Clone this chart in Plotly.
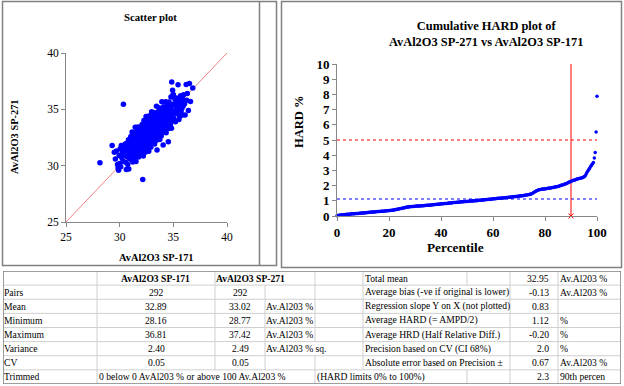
import plotly.graph_objects as go

W, H = 624, 386
FONT = "Liberation Serif, Times New Roman, serif"

# ---------------- data ----------------
x171 = [
    28.16,
    29.3, 29.5, 29.6, 29.7, 29.8, 29.85, 29.9, 29.95,
    30.0, 30.05, 30.1, 30.15, 30.2, 30.25, 30.3, 30.35, 30.4, 30.45, 30.5, 30.55,
    30.6, 30.62, 30.65, 30.7, 30.72, 30.75, 30.8, 30.82, 30.85, 30.9, 30.93, 30.97,
    31.00, 31.02, 31.04, 31.05, 31.07, 31.09, 31.10, 31.12, 31.14, 31.16,
    31.18, 31.20, 31.22, 31.24, 31.25, 31.27, 31.29, 31.30, 31.32, 31.34,
    31.36, 31.38, 31.40, 31.42, 31.44, 31.45, 31.47, 31.49, 31.50, 31.52,
    31.54, 31.56, 31.58, 31.60, 31.62, 31.64, 31.65, 31.67, 31.69, 31.70,
    31.72, 31.74, 31.76, 31.78, 31.80, 31.82, 31.84, 31.85, 31.87, 31.89,
    31.90, 31.92, 31.94, 31.96, 31.98,
    32.00, 32.02, 32.03, 32.05, 32.06, 32.08, 32.09, 32.11, 32.12, 32.14,
    32.15, 32.17, 32.19, 32.20, 32.22, 32.23, 32.25, 32.26, 32.28, 32.29,
    32.31, 32.33, 32.34, 32.36, 32.37, 32.39, 32.40, 32.42, 32.43, 32.45,
    32.46, 32.48, 32.50, 32.51, 32.53, 32.54, 32.56, 32.57, 32.59, 32.60,
    32.62, 32.64, 32.65, 32.67, 32.68, 32.70, 32.71, 32.73, 32.74, 32.76,
    32.77, 32.79, 32.81, 32.82, 32.84, 32.85, 32.87, 32.88, 32.90, 32.91,
    32.93, 32.95, 32.96, 32.98, 32.99,
    33.00, 33.02, 33.03, 33.05, 33.06, 33.08, 33.09, 33.11, 33.12, 33.14,
    33.15, 33.17, 33.19, 33.20, 33.22, 33.23, 33.25, 33.26, 33.28, 33.29,
    33.31, 33.33, 33.34, 33.36, 33.37, 33.39, 33.40, 33.42, 33.43, 33.45,
    33.46, 33.48, 33.50, 33.51, 33.53, 33.54, 33.56, 33.57, 33.59, 33.60,
    33.62, 33.64, 33.65, 33.67, 33.68, 33.70, 33.71, 33.73, 33.74, 33.76,
    33.77, 33.79, 33.81, 33.82, 33.84, 33.85, 33.87, 33.88, 33.90, 33.91,
    33.93, 33.95, 33.96, 33.98, 33.99,
    34.00, 34.03, 34.05, 34.08, 34.10, 34.13, 34.15, 34.18, 34.20, 34.23,
    34.25, 34.28, 34.30, 34.33, 34.35, 34.38, 34.40, 34.43, 34.45, 34.48,
    34.50, 34.53, 34.55, 34.58, 34.60, 34.63, 34.65, 34.68, 34.70, 34.73,
    34.75, 34.78, 34.80, 34.83, 34.85, 34.88, 34.90, 34.93, 34.95, 34.98,
    35.00, 35.04, 35.08, 35.12, 35.16, 35.20, 35.24, 35.28, 35.32, 35.36,
    35.40, 35.44, 35.48, 35.52, 35.56, 35.60, 35.64, 35.68, 35.72, 35.76,
    35.80, 35.84, 35.88, 35.92, 35.96,
    36.05, 36.1, 36.2, 36.25, 36.3, 36.4, 36.5, 36.6, 36.81,
]
y271 = [
    30.25,
    31.8, 31.2, 30.6, 31.3, 30.1, 29.8, 29.6, 30.9,
    30.2, 31.5, 29.9, 31.8, 30.7, 31.2, 30.4, 35.45, 31.6, 30.9, 31.9, 30.3,
    31.3, 29.65, 32.0, 30.8, 31.5, 30.1, 31.7, 32.3, 29.7, 31.1, 30.6, 31.9,
    31.75, 30.87, 32.58, 31.29, 32.21, 30.52, 31.63, 32.05, 31.17, 32.98,
    30.80, 31.82, 30.33, 32.55, 31.66, 31.37, 32.29, 31.00, 32.92, 31.63,
    32.15, 30.67, 32.58, 31.30, 32.02, 33.42, 30.94, 32.16, 31.67, 30.38,
    32.20, 31.32, 33.03, 31.75, 32.67, 30.98, 32.09, 32.51, 31.62, 33.43,
    31.25, 32.26, 30.78, 33.00, 32.11, 31.83, 32.75, 31.46, 33.37, 32.09,
    32.60, 31.11, 33.03, 31.75, 32.46,
    31.88, 33.20, 31.10, 32.52, 32.93, 32.25, 33.65, 31.67, 32.78, 31.50,
    28.77, 33.42, 32.14, 30.85, 33.16, 32.77, 31.99, 34.00, 32.31, 33.02,
    31.54, 32.65, 33.36, 31.98, 33.69, 31.20, 32.81, 32.33, 33.24, 31.85,
    34.36, 32.68, 32.50, 32.30, 33.62, 31.53, 32.94, 33.35, 32.67, 34.08,
    32.09, 33.21, 31.92, 32.84, 33.84, 32.56, 31.27, 33.59, 33.19, 32.41,
    34.42, 32.74, 33.45, 31.96, 33.08, 33.78, 32.40, 34.11, 31.63, 33.23,
    32.75, 33.67, 32.28, 34.79, 33.10,
    33.61, 32.33, 34.33, 32.85, 33.26, 32.08, 33.88, 33.50, 32.71, 34.73,
    33.03, 32.35, 33.67, 34.28, 32.69, 33.30, 31.92, 34.13, 33.54, 32.95,
    34.67, 32.68, 33.99, 33.31, 32.22, 34.33, 33.74, 32.86, 35.27, 33.18,
    33.49, 31.40, 34.03, 32.73, 34.75, 33.26, 33.67, 32.48, 34.30, 33.91,
    33.12, 35.14, 33.45, 32.77, 34.07, 34.69, 33.10, 33.72, 32.32, 34.54,
    33.95, 33.37, 35.08, 33.09, 34.41, 33.72, 32.63, 34.74, 34.16, 33.27,
    35.68, 33.60, 33.91, 32.92, 34.43,
    33.64, 34.76, 31.83, 34.41, 35.22, 33.45, 34.17, 33.89, 35.01, 33.23,
    34.65, 35.68, 33.79, 32.92, 34.53, 34.96, 34.17, 35.30, 33.61, 34.54,
    34.06, 32.13, 33.30, 34.82, 35.64, 33.86, 34.58, 34.30, 35.42, 33.65,
    35.06, 36.09, 34.21, 33.33, 37.42, 35.37, 34.59, 36.70, 34.03, 36.30,
    36.3, 34.2, 35.5, 34.8, 35.9, 33.9, 35.2, 36.0, 34.6, 35.5,
    34.9, 37.18, 35.6, 34.1, 35.8, 34.36, 35.2, 36.2, 34.8, 35.6,
    35.1, 34.5, 35.9, 35.3, 36.3,
    35.5, 34.5, 37.2, 35.8, 36.4, 34.9, 37.3, 35.7, 36.9,
]

hard_sorted = [
    0.02, 0.04, 0.05, 0.05, 0.06, 0.07, 0.08, 0.08, 0.09, 0.10, 0.10, 0.11, 0.11, 0.12, 0.12, 0.13, 0.13, 0.14, 0.14, 0.15,
    0.15, 0.16, 0.16, 0.17, 0.17, 0.18, 0.18, 0.19, 0.19, 0.20, 0.20, 0.21, 0.22, 0.22, 0.23, 0.23, 0.24, 0.24, 0.25, 0.26,
    0.26, 0.27, 0.27, 0.28, 0.28, 0.29, 0.29, 0.30, 0.30, 0.31, 0.31, 0.32, 0.32, 0.33, 0.33, 0.34, 0.35, 0.35, 0.36, 0.37,
    0.37, 0.38, 0.38, 0.39, 0.40, 0.41, 0.42, 0.44, 0.45, 0.46, 0.47, 0.49, 0.50, 0.51, 0.53, 0.54, 0.55, 0.57, 0.58, 0.60,
    0.60, 0.61, 0.61, 0.62, 0.62, 0.63, 0.63, 0.64, 0.64, 0.65, 0.65, 0.65, 0.66, 0.66, 0.67, 0.67, 0.68, 0.68, 0.69, 0.69,
    0.70, 0.70, 0.71, 0.71, 0.72, 0.72, 0.73, 0.74, 0.74, 0.75, 0.75, 0.76, 0.77, 0.77, 0.78, 0.79, 0.79, 0.80, 0.80, 0.81,
    0.82, 0.82, 0.83, 0.83, 0.84, 0.85, 0.85, 0.86, 0.86, 0.87, 0.88, 0.88, 0.89, 0.89, 0.90, 0.91, 0.91, 0.92, 0.92, 0.93,
    0.93, 0.94, 0.94, 0.95, 0.95, 0.96, 0.96, 0.97, 0.97, 0.98, 0.98, 0.99, 0.99, 1.00, 1.00, 1.01, 1.01, 1.02, 1.02, 1.03,
    1.04, 1.04, 1.05, 1.05, 1.06, 1.07, 1.07, 1.08, 1.09, 1.09, 1.10, 1.10, 1.11, 1.12, 1.12, 1.13, 1.13, 1.14, 1.15, 1.15,
    1.16, 1.16, 1.17, 1.17, 1.18, 1.19, 1.19, 1.20, 1.20, 1.21, 1.22, 1.22, 1.23, 1.24, 1.24, 1.25, 1.26, 1.26, 1.27, 1.28,
    1.28, 1.29, 1.30, 1.30, 1.31, 1.32, 1.33, 1.33, 1.34, 1.35, 1.36, 1.37, 1.38, 1.39, 1.40, 1.42, 1.43, 1.44, 1.46, 1.50,
    1.54, 1.58, 1.62, 1.65, 1.68, 1.70, 1.72, 1.74, 1.75, 1.76, 1.77, 1.78, 1.78, 1.79, 1.80, 1.81, 1.82, 1.83, 1.84, 1.85,
    1.86, 1.87, 1.88, 1.89, 1.91, 1.92, 1.93, 1.94, 1.96, 1.98, 2.00, 2.02, 2.04, 2.06, 2.08, 2.10, 2.12, 2.14, 2.17, 2.20,
    2.23, 2.26, 2.29, 2.31, 2.33, 2.35, 2.37, 2.39, 2.41, 2.43, 2.45, 2.46, 2.48, 2.49, 2.51, 2.53, 2.56, 2.60, 2.66, 2.78,
    2.90, 2.98, 3.08, 3.18, 3.28, 3.36, 3.44, 3.52, 3.82, 4.18, 5.52, 7.88,
]

one_to_one = [25, 40]
hard_limit = 5
avg_hard = 1.12
pct_cut = 90
hard_axis_max = 10

row_labels = ["", "Pairs", "Mean", "Minimum", "Maximum", "Variance", "CV", "Trimmed"]
col_sp171 = ["AvAl2O3 SP-171", "292", "32.89", "28.16", "36.81", "2.40", "0.05",
             "0 below 0 AvAl203 % or above 100 Av.Al203 %"]
col_sp271 = ["AvAl2O3 SP-271", "292", "33.02", "28.77", "37.42", "2.49", "0.05", ""]
col_units = ["", "", "Av.Al203 %", "Av.Al203 %", "Av.Al203 %", "Av.Al203 % sq.", "", ""]
col_limits = ["", "", "", "", "", "", "", "(HARD limits 0% to 100%)"]
stat_names = ["Total mean", "Average bias (-ve if original is lower)",
              "Regression slope Y on X (not plotted)", "Average HARD (= AMPD/2)",
              "Average HRD (Half Relative Diff.)", "Precision based on CV (CI 68%)",
              "Absolute error based on Precision \u00b1", ""]
stat_values = ["32.95", "-0.13", "0.83", "1.12", "-0.20", "2.0", "0.67", "2.3"]
stat_units = ["Av.Al203 %", "Av.Al203 %", "", "%", "%", "%", "Av.Al203 %", "90th percen"]

n = len(hard_sorted)
percentile = [i * 100.0 / (n - 1) for i in range(n)]

# ---------------- helpers ----------------
def px(x):
    return x / W

def py(y):
    return 1 - y / H

fig = go.Figure()

# scatter plot
fig.add_trace(go.Scatter(x=one_to_one, y=one_to_one, mode="lines",
                         line=dict(color="#F08080", width=1), xaxis="x", yaxis="y",
                         hoverinfo="skip"))
fig.add_trace(go.Scatter(x=x171, y=y271, mode="markers",
                         marker=dict(color="#0000FF", size=5.5, line=dict(width=0)),
                         xaxis="x", yaxis="y", cliponaxis=False))

# HARD plot
fig.add_trace(go.Scatter(x=[0, 100], y=[hard_limit, hard_limit], mode="lines",
                         line=dict(color="#FF0000", width=1.2, dash="dot"), xaxis="x2", yaxis="y2"))
fig.add_trace(go.Scatter(x=[0, 100], y=[avg_hard, avg_hard], mode="lines",
                         line=dict(color="#0000FF", width=1.2, dash="dot"), xaxis="x2", yaxis="y2"))
fig.add_trace(go.Scatter(x=[pct_cut, pct_cut], y=[0, hard_axis_max], mode="lines",
                         line=dict(color="#FF0000", width=1), xaxis="x2", yaxis="y2"))
fig.add_trace(go.Scatter(x=percentile, y=hard_sorted, mode="markers",
                         marker=dict(color="#0000FF", size=3.5, line=dict(width=0)),
                         xaxis="x2", yaxis="y2", cliponaxis=False))
fig.add_trace(go.Scatter(x=[pct_cut], y=[0], mode="markers",
                         marker=dict(color="#FF0000", size=5, symbol="x-thin-open",
                                     line=dict(color="#FF0000", width=1)),
                         xaxis="x2", yaxis="y2", cliponaxis=False))

axis_common = dict(showgrid=False, zeroline=False, showline=True, linecolor="#868686",
                   linewidth=1, ticks="outside", ticklen=4, tickcolor="#868686",
                   fixedrange=True, automargin=False)

# table geometry (pixels)
T_LEFT, T_RIGHT, T_TOP, T_BOTTOM = 3, 621, 271, 384
col_edges = [3, 97, 215, 265, 315, 363, 467, 510, 558, 621]
n_rows = 8

layout = dict(
    width=W, height=H, autosize=False,
    margin=dict(l=0, r=0, t=0, b=0, pad=0, autoexpand=False),
    paper_bgcolor="white", plot_bgcolor="white", showlegend=False,
    font=dict(family=FONT, color="black"),
    xaxis=dict(domain=[px(66), px(227)], range=[25, 40], tickvals=[25, 30, 35, 40],
               tickfont=dict(family=FONT, size=11.5), anchor="y", **axis_common),
    yaxis=dict(domain=[py(222), py(53)], range=[25, 40], tickvals=[25, 30, 35, 40],
               tickfont=dict(family=FONT, size=11.5), anchor="x", **axis_common),
    xaxis2=dict(domain=[px(337), px(597)], range=[0, 100], tickvals=[0, 20, 40, 60, 80, 100],
                tickfont=dict(family=FONT, size=13, weight="bold"), anchor="y2", **axis_common),
    yaxis2=dict(domain=[py(216), py(64)], range=[0, 10], tickvals=list(range(0, 11)),
                tickfont=dict(family=FONT, size=13, weight="bold"), anchor="x2", **axis_common),
    xaxis3=dict(domain=[px(T_LEFT), px(T_RIGHT)], range=[T_LEFT, T_RIGHT], visible=False,
                anchor="y3", fixedrange=True, automargin=False),
    yaxis3=dict(domain=[py(T_BOTTOM), py(T_TOP)], range=[n_rows, 0], visible=False,
                anchor="x3", fixedrange=True, automargin=False),
)
fig.update_layout(**layout)

shapes = []
BORDER = dict(color="#808080", width=1.5)
# panel borders
shapes.append(dict(type="rect", xref="paper", yref="paper", x0=px(2.5), x1=px(276.5),
                   y0=py(265.5), y1=py(1.5), line=BORDER))
shapes.append(dict(type="line", xref="paper", yref="paper", x0=px(259.5), x1=px(259.5),
                   y0=py(265.5), y1=py(1.5), line=BORDER))
shapes.append(dict(type="rect", xref="paper", yref="paper", x0=px(281.5), x1=px(621.5),
                   y0=py(267.5), y1=py(1.5), line=BORDER))

# table gridlines
GRID = "#CFCFCF"
for r in range(1, n_rows):
    shapes.append(dict(type="line", xref="x3", yref="y3", x0=T_LEFT, x1=T_RIGHT, y0=r, y1=r,
                       line=dict(color=GRID, width=1)))
hidden = {0: [265], 1: [467], 2: [467], 3: [467], 4: [467], 5: [315, 467], 6: [467],
          7: [215, 265, 363]}
for r in range(n_rows):
    for e in col_edges[1:-1]:
        if e in hidden.get(r, []):
            continue
        shapes.append(dict(type="line", xref="x3", yref="y3", x0=e, x1=e, y0=r, y1=r + 1,
                           line=dict(color=GRID, width=1)))
shapes.append(dict(type="rect", xref="x3", yref="y3", x0=T_LEFT, x1=T_RIGHT, y0=0, y1=n_rows,
                   line=dict(color="#7F7F7F", width=1.5)))
fig.update_layout(shapes=shapes)

ann = []
TS = 9.6

def cell(text, x, r, anchor, bold=False):
    if not text:
        return
    ann.append(dict(text=("<b>%s</b>" % text) if bold else text, x=x, y=r + 0.5,
                    xref="x3", yref="y3", xanchor=anchor, yanchor="middle",
                    showarrow=False, borderpad=0, borderwidth=0,
                    font=dict(family=FONT, size=TS, color="black")))

for r in range(n_rows):
    cell(row_labels[r], 4, r, "left")
    if r == 0:
        cell(col_sp171[r], 155, r, "center", bold=True)
        cell(col_sp271[r], 216, r, "left", bold=True)
    elif r == 7:
        cell(col_sp171[r], 99, r, "left")
    else:
        cell(col_sp171[r], 156, r, "center")
        cell(col_sp271[r], 240, r, "center")
    cell(col_units[r], 266, r, "left")
    cell(col_limits[r], 317, r, "left")
    cell(stat_names[r], 365, r, "left")
    cell(stat_values[r], 549, r, "right")
    cell(stat_units[r], 560, r, "left")

# chart titles / axis titles
def label(text, x, y, size, angle=0):
    ann.append(dict(text="<b>%s</b>" % text, x=px(x), y=py(y), xref="paper", yref="paper",
                    xanchor="center", yanchor="middle", showarrow=False, textangle=angle,
                    font=dict(family=FONT, size=size, color="black")))

label("Scatter plot", 150, 17, 10.7)
label("AvAl2O3 SP-171", 156, 257, 10.4)
label("AvAl2O3 SP-271", 15, 137, 10.4, angle=-90)
label("Cumulative HARD plot of<br>AvAl2O3 SP-271 vs AvAl2O3 SP-171", 486, 34, 12.4)
label("HARD %", 299, 122, 12.5, angle=-90)
label("Percentile", 455, 248, 13.3)

fig.update_layout(annotations=ann)
fig.write_html("out.html", config={"displayModeBar": False, "responsive": False},
               post_script="document.body.style.margin='0px';")
